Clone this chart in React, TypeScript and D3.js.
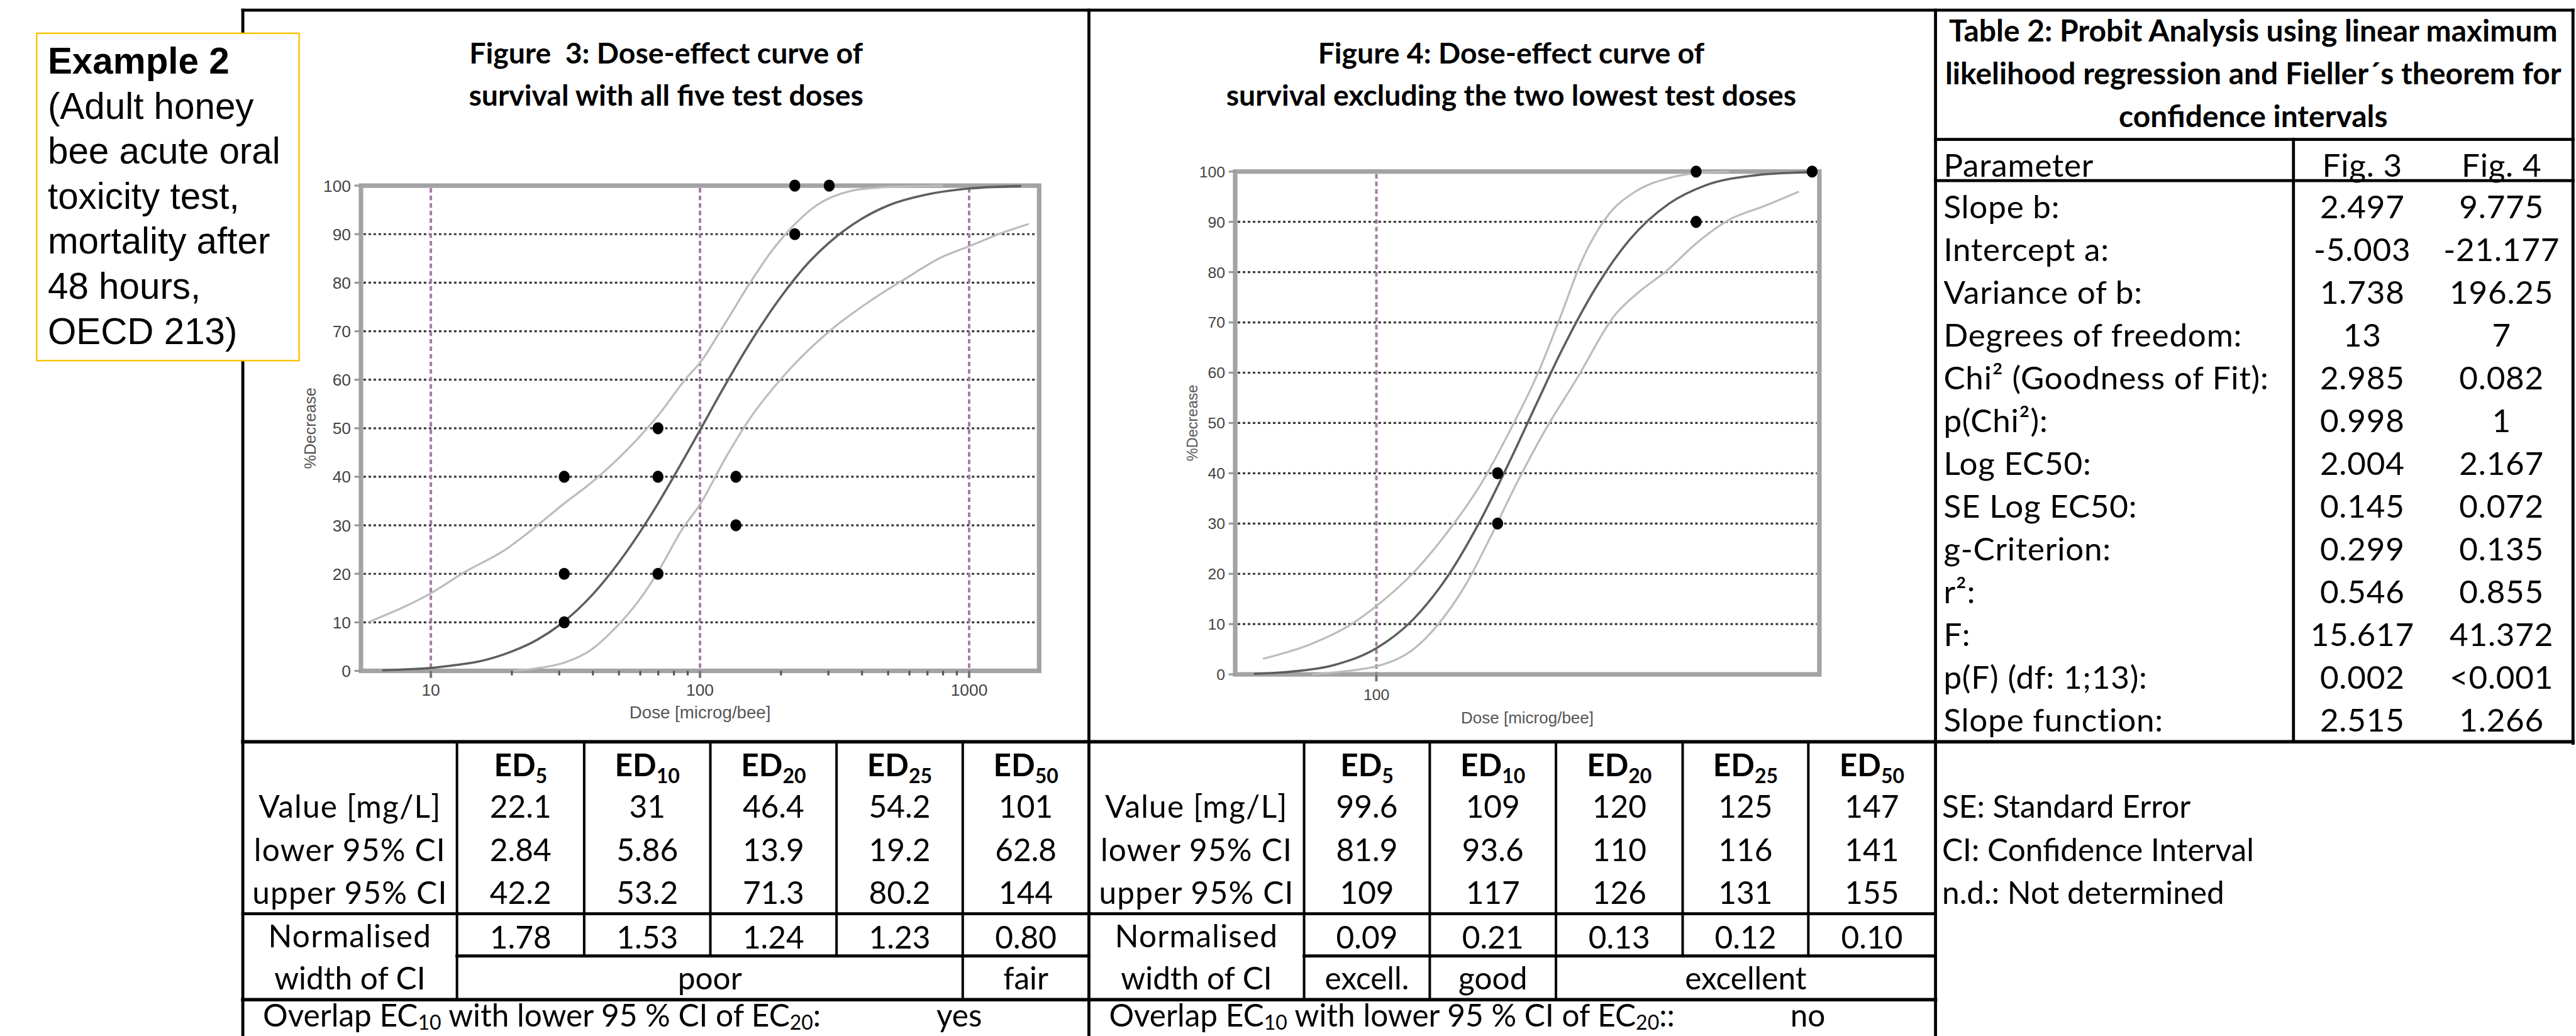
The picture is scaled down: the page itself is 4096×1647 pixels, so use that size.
import React from "react";
import * as d3 from "d3";

// ---- data ----
const yTicks = [0, 10, 20, 30, 40, 50, 60, 70, 80, 90, 100];

// Figure 3 (all five doses)
const fig3XDomain = [5.5, 1820];
const fig3MajorTicks = [10, 100, 1000];
const fig3MinorTicks = [20, 30, 40, 50, 60, 70, 80, 90, 200, 300, 400, 500, 600, 700, 800, 900];
const fig3Fit = [
  [6.6, 0.1], [8, 0.3], [10, 0.6], [12, 1.1], [15, 1.9], [20, 4], [25, 6.5], [30, 9.4],
  [40, 15.8], [50, 22.4], [60, 28.7], [70, 34.6], [80, 40.1], [100, 49.6], [120, 57.5],
  [150, 66.7], [200, 77.1], [250, 83.8], [300, 88.1], [400, 93.2], [500, 95.9],
  [700, 98.2], [1000, 99.4], [1560, 99.9],
];
const fig3Upper = [
  [5.9, 10.1], [10, 16], [13.4, 20.4], [18.7, 24.8], [23.9, 29.2], [31.3, 34.5],
  [39.3, 38.7], [54.6, 46], [69.8, 52.6], [89.5, 60.5], [100, 63.5], [124.5, 71.8],
  [152.8, 79.8], [184, 86.4], [221, 91.6], [272, 96], [363, 98.9], [465, 99.6],
  [595, 99.9], [800, 100],
];
const fig3Lower = [
  [20.3, 0], [26, 0.7], [31.3, 1.7], [39.3, 4.3], [48.2, 8.7], [59.3, 14.5], [69.8, 20.4],
  [85.9, 29.2], [100, 34.3], [124.5, 43.9], [152.8, 51.9], [204, 60.7], [307, 70.3],
  [428, 76.2], [571, 80.6], [794, 85.3], [1000, 87.5], [1303, 90.1], [1667, 92.1],
];
const fig3Dose = [31.3, 31.3, 31.3, 69.8, 69.8, 69.8, 136, 136, 225, 225, 302];
const fig3Effect = [10, 20, 40, 20, 40, 50, 30, 40, 90, 100, 100];

// Figure 4 (two lowest doses excluded)
const fig4XDomain = [69.9, 307.6];
const fig4MajorTicks = [100];
const fig4Fit = [
  [73.3, 0.1], [80, 0.5], [90, 1.9], [100, 5.2], [110, 11.1], [120, 19.7], [130, 30.4],
  [140, 42.1], [150, 53.7], [160, 64.4], [175, 77.3], [190, 86.4], [210, 93.6],
  [230, 97.2], [260, 99.2], [300, 99.9],
];
const fig4Upper = [
  [75, 3.1], [84.6, 6], [93.1, 9.6], [100, 13.6], [110.2, 20.5], [120, 28.5], [130.5, 38],
  [140.7, 48.9], [149.9, 59], [159.7, 71.4], [168.4, 82.3], [179.4, 91], [193.2, 96.1],
  [210, 98.7], [228.5, 99.8], [245, 100],
];
const fig4Lower = [
  [85, 0], [95, 0.9], [100, 1.6], [110.2, 5.2], [117.4, 10.3], [125.2, 17.6], [133.3, 27],
  [142, 37.2], [152.9, 48.1], [166.5, 59], [183, 71.4], [196, 76.5], [208, 80],
  [226, 86], [244, 90.3], [268, 93.2], [292, 96],
];
const fig4Dose = [136, 136, 225, 225, 302];
const fig4Effect = [30, 40, 90, 100, 100];

// Table 2
const table2Title = [
  "Table 2: Probit Analysis using linear maximum",
  "likelihood regression and Fieller´s theorem for",
  "confidence intervals",
];
const paramNames = [
  "Slope b:", "Intercept a:", "Variance of b:", "Degrees of freedom:", "Chi² (Goodness of Fit):",
  "p(Chi²):", "Log EC50:", "SE Log EC50:", "g-Criterion:", "r²:", "F:", "p(F) (df: 1;13):",
  "Slope function:",
];
const paramFig3 = ["2.497", "-5.003", "1.738", "13", "2.985", "0.998", "2.004", "0.145", "0.299", "0.546", "15.617", "0.002", "2.515"];
const paramFig4 = ["9.775", "-21.177", "196.25", "7", "0.082", "1", "2.167", "0.072", "0.135", "0.855", "41.372", "<0.001", "1.266"];

// ED tables
const edLevels = ["5", "10", "20", "25", "50"];
const rowLabels = ["Value [mg/L]", "lower 95% CI", "upper 95% CI"];
const fig3Ed = [
  ["22.1", "31", "46.4", "54.2", "101"],
  ["2.84", "5.86", "13.9", "19.2", "62.8"],
  ["42.2", "53.2", "71.3", "80.2", "144"],
];
const fig3Norm = ["1.78", "1.53", "1.24", "1.23", "0.80"];
const fig3Rating = [["poor", 0, 4], ["fair", 4, 5]];
const fig3Overlap = "yes";
const fig4Ed = [
  ["99.6", "109", "120", "125", "147"],
  ["81.9", "93.6", "110", "116", "141"],
  ["109", "117", "126", "131", "155"],
];
const fig4Norm = ["0.09", "0.21", "0.13", "0.12", "0.10"];
const fig4Rating = [["excell.", 0, 1], ["good", 1, 2], ["excellent", 2, 5]];
const fig4Overlap = "no";
const notes = ["SE: Standard Error", "CI: Confidence Interval", "n.d.: Not determined"];
const exampleLines = ["(Adult honey", "bee acute oral", "toxicity test,", "mortality after", "48 hours,", "OECD 213)"];

const LATO = "Lato, 'Open Sans', sans-serif";
const ARIAL = "'Liberation Sans', Arial, sans-serif";

function DosePlot({ left, right, top, bottom, domain, major, minor, fit, upper, lower, dose, effect, fs, xLabelY, tickLabelY, yLabelX }) {
  const x = d3.scaleLog().domain(domain).range([left, right]);
  const y = d3.scaleLinear().domain([0, 100]).range([bottom, top]);
  const line = d3.line().x((d) => x(d[0])).y((d) => y(d[1])).curve(d3.curveMonotoneX);
  return (
    <g>
      <rect x={left} y={top} width={right - left} height={bottom - top} fill="white" stroke="#a3a3a3" strokeWidth={9} />
      {yTicks.slice(1, -1).map((t) => (
        <line key={"g" + t} x1={left + 5} x2={right - 5} y1={y(t)} y2={y(t)} stroke="#3a3a3a" strokeWidth={4} strokeDasharray="5 5" />
      ))}
      {major.map((t) => (
        <line key={"v" + t} x1={x(t)} x2={x(t)} y1={top + 5} y2={bottom} stroke="#a47ea4" strokeWidth={5} strokeDasharray="9 6" />
      ))}
      {major.map((t) => (
        <line key={"mt" + t} x1={x(t)} x2={x(t)} y1={bottom} y2={bottom + 14} stroke="#777" strokeWidth={5} />
      ))}
      {minor.map((t) => (
        <line key={"nt" + t} x1={x(t)} x2={x(t)} y1={bottom} y2={bottom + 9} stroke="#555" strokeWidth={4} />
      ))}
      {yTicks.map((t) => (
        <g key={"yt" + t}>
          <line x1={left - 13} x2={left} y1={y(t)} y2={y(t)} stroke="#999" strokeWidth={4} />
          <text x={left - 20} y={y(t) + fs * 0.36} textAnchor="end" fontFamily={ARIAL} fontSize={fs} fill="#444">{t}</text>
        </g>
      ))}
      {major.map((t) => (
        <text key={"xl" + t} x={x(t)} y={tickLabelY} textAnchor="middle" fontFamily={ARIAL} fontSize={fs} fill="#444">{t}</text>
      ))}
      <path d={line(lower)} fill="none" stroke="#bcbcbc" strokeWidth={4} />
      <path d={line(upper)} fill="none" stroke="#bcbcbc" strokeWidth={4} />
      <path d={line(fit)} fill="none" stroke="#5e5e5e" strokeWidth={4.5} />
      {dose.map((d, i) => (
        <ellipse key={"p" + i} cx={x(d)} cy={y(effect[i])} rx={11} ry={12} fill="black" />
      ))}
      <text x={(left + right) / 2} y={xLabelY} textAnchor="middle" fontFamily={ARIAL} fontSize={fs * 1.05} fill="#555">Dose [microg/bee]</text>
      <text transform={`translate(${yLabelX},${(top + bottom) / 2}) rotate(-90)`} textAnchor="middle" fontFamily={ARIAL} fontSize={fs * 0.95} fill="#555">%Decrease</text>
    </g>
  );
}

function EdTable({ cols, ed, norm, rating, overlap, overlapSuffix, overlapX }) {
  const cx = (i) => (cols[i + 1] + cols[i + 2]) / 2;
  const labelX = (cols[0] + cols[1]) / 2;
  const F = 62;
  const rowY = [1626, 1712, 1797];
  return (
    <g fontFamily={LATO} fontSize={F} fill="black">
      {edLevels.map((lv, i) => (
        <text key={"h" + lv} x={cx(i)} y={1543} textAnchor="middle" fontWeight={700}>
          ED<tspan fontSize={40} dy={14}>{lv}</tspan>
        </text>
      ))}
      {rowLabels.map((r, j) => (
        <text key={"rl" + j} x={labelX} y={rowY[j]} textAnchor="middle" letterSpacing={1.5}>{r}</text>
      ))}
      {ed.map((row, j) =>
        row.map((v, i) => (
          <text key={"v" + j + i} x={cx(i)} y={rowY[j]} textAnchor="middle">{v}</text>
        ))
      )}
      <text x={labelX} y={1884} textAnchor="middle" letterSpacing={1.5}>Normalised</text>
      <text x={labelX} y={1968} textAnchor="middle">width of CI</text>
      {norm.map((v, i) => (
        <text key={"n" + i} x={cx(i)} y={1886} textAnchor="middle">{v}</text>
      ))}
      {rating.map(([r, a, b]) => (
        <text key={r} x={(cols[a + 1] + cols[b + 1]) / 2} y={1968} textAnchor="middle">{r}</text>
      ))}
      <text x={cols[0] + 40} y={2042}>
        Overlap EC<tspan fontSize={40} dy={6}>10</tspan>
        <tspan dy={-6}> with lower 95 % CI of EC</tspan>
        <tspan fontSize={40} dy={6}>20</tspan>
        <tspan dy={-6}>{overlapSuffix}</tspan>
      </text>
      <text x={overlapX} y={2042} textAnchor="middle">{overlap}</text>
    </g>
  );
}

export default function App() {
  const cols3 = [483, 909, 1162, 1413, 1664, 1915, 2166];
  const cols4 = [2166, 2594, 2844, 3095, 3347, 3597, 3850];
  const rules = [
    [483, 20, 5118, 20, 6],
    [483, 20, 483, 2060, 6],
    [2166, 20, 2166, 2060, 6],
    [3850, 20, 3850, 2060, 6],
    [5118, 20, 5118, 1478, 6],
    [483, 1475, 5118, 1475, 7],
    [3850, 277, 5118, 277, 6],
    [3850, 359, 5118, 359, 6],
    [4562, 277, 4562, 1475, 6],
    [483, 1817, 3850, 1817, 6],
    [909, 1901, 2166, 1901, 6],
    [2594, 1901, 3850, 1901, 6],
    [483, 1988, 3850, 1988, 7],
    [909, 1475, 909, 1988, 5],
    [1162, 1475, 1162, 1901, 5],
    [1413, 1475, 1413, 1901, 5],
    [1664, 1475, 1664, 1901, 5],
    [1915, 1475, 1915, 1988, 5],
    [2594, 1475, 2594, 1988, 5],
    [2844, 1475, 2844, 1988, 5],
    [3095, 1475, 3095, 1988, 5],
    [3347, 1475, 3347, 1901, 5],
    [3597, 1475, 3597, 1901, 5],
  ];
  return (
    <svg
      width={4096}
      height={1647}
      viewBox="0 0 5124 2060"
      style={{ position: "absolute", left: 0, top: 0, background: "white" }}
    >
      <rect x={0} y={0} width={5124} height={2060} fill="white" />

      {/* Figure titles */}
      <g fontFamily={LATO} fontWeight={700} fontSize={58} textAnchor="middle">
        <text x={1325} y={126} xmlSpace="preserve">Figure  3: Dose-effect curve of</text>
        <text x={1325} y={210}>survival with all five test doses</text>
        <text x={3006} y={126}>Figure 4: Dose-effect curve of</text>
        <text x={3006} y={210}>survival excluding the two lowest test doses</text>
      </g>

      <DosePlot
        left={718} right={2067} top={369} bottom={1334}
        domain={fig3XDomain} major={fig3MajorTicks} minor={fig3MinorTicks}
        fit={fig3Fit} upper={fig3Upper} lower={fig3Lower}
        dose={fig3Dose} effect={fig3Effect}
        fs={33} xLabelY={1428} tickLabelY={1383} yLabelX={628}
      />
      <DosePlot
        left={2457} right={3619} top={341} bottom={1341}
        domain={fig4XDomain} major={fig4MajorTicks} minor={[]}
        fit={fig4Fit} upper={fig4Upper} lower={fig4Lower}
        dose={fig4Dose} effect={fig4Effect}
        fs={31} xLabelY={1439} tickLabelY={1392} yLabelX={2382}
      />

      {/* Table 2 */}
      <g fontFamily={LATO} fontWeight={700} fontSize={60} textAnchor="middle">
        {table2Title.map((t, i) => (
          <text key={t} x={4482} y={83 + i * 85}>{t}</text>
        ))}
      </g>
      <g fontFamily={LATO} fontSize={64} letterSpacing={1}>
        <text x={3866} y={351}>Parameter</text>
        <text x={4699} y={351} textAnchor="middle">Fig. 3</text>
        <text x={4976} y={351} textAnchor="middle">Fig. 4</text>
        {paramNames.map((p, i) => (
          <g key={p}>
            <text x={3866} y={434 + i * 85.1}>{p}</text>
            <text x={4699} y={434 + i * 85.1} textAnchor="middle">{paramFig3[i]}</text>
            <text x={4976} y={434 + i * 85.1} textAnchor="middle">{paramFig4[i]}</text>
          </g>
        ))}
      </g>

      <EdTable cols={cols3} ed={fig3Ed} norm={fig3Norm} rating={fig3Rating}
        overlap={fig3Overlap} overlapSuffix=":" overlapX={1908} />
      <EdTable cols={cols4} ed={fig4Ed} norm={fig4Norm} rating={fig4Rating}
        overlap={fig4Overlap} overlapSuffix="::" overlapX={3596} />

      <g fontFamily={LATO} fontSize={62}>
        {notes.map((n, i) => (
          <text key={n} x={3863} y={[1626, 1712, 1797][i]}>{n}</text>
        ))}
      </g>

      {rules.map(([x1, y1, x2, y2, w], i) => (
        <line key={"r" + i} x1={x1} y1={y1} x2={x2} y2={y2} stroke="black" strokeWidth={w} strokeLinecap="square" />
      ))}

      {/* Example box */}
      <rect x={73} y={66} width={522} height={651} fill="white" stroke="#FFC000" strokeWidth={3} />
      <g fontFamily={ARIAL} fontSize={73}>
        <text x={95} y={146} fontWeight={700}>Example 2</text>
        {exampleLines.map((l, i) => (
          <text key={l} x={95} y={236 + i * 89.5}>{l}</text>
        ))}
      </g>
    </svg>
  );
}
